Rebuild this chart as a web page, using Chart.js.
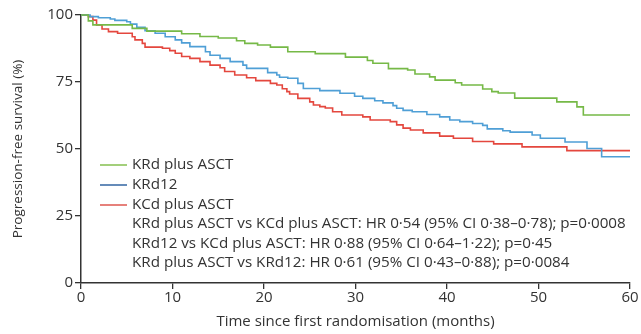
<!DOCTYPE html>
<html>
<head>
<meta charset="utf-8">
<script src="https://cdn.jsdelivr.net/npm/chart.js@4/dist/chart.umd.min.js"></script>
<style>
html,body{margin:0;padding:0;background:#fff;}
#wrap{width:641px;height:334px;}
</style>
</head>
<body>
<div id="wrap"><canvas id="c" width="641" height="334"></canvas></div>
<script>
// ---- Data ----
const xTicks = [0, 10, 20, 30, 40, 50, 60];
const yTicks = [0, 25, 50, 75, 100];

const krdAsctMonths = [0, 0.8, 1.3, 5.6, 7.2, 11, 13, 15, 17, 17.9, 19.3, 20.7, 22.6, 25.6, 28.9, 31.3, 31.9, 33.6, 35.7, 36.5, 38.1, 38.7, 40.9, 41.6, 43.9, 44.9, 45.6, 47.4, 52, 54.2, 54.9, 60];
const krdAsctPFS    = [100, 97.8, 96.3, 95, 94, 93, 92, 91.4, 90.4, 89.4, 88.8, 88, 86.3, 85.6, 84.3, 83, 82, 80, 79.5, 78, 76.9, 75.7, 74.7, 73.9, 72.4, 71.4, 70.9, 69, 67.6, 65.7, 62.7, 62.7];

const krd12Months = [0, 1, 1.9, 3.2, 3.7, 5, 5.4, 6.1, 7, 8.1, 9.2, 10.3, 11, 11.9, 13.6, 14.1, 15.2, 16.3, 17.7, 18.1, 20.4, 21.4, 21.7, 22.6, 23.7, 24.3, 26.1, 28.3, 29.9, 30.8, 32.1, 33, 34.1, 34.5, 35.2, 36.2, 37.8, 39.2, 40.3, 41.4, 42.8, 43.9, 44.4, 46.1, 46.9, 49.3, 50.2, 52.9, 55.3, 56.9, 60];
const krd12PFS    = [100, 99.4, 99, 98.5, 98, 97.5, 96.6, 95.4, 94.1, 93.2, 91.9, 90.7, 89.6, 88.2, 86.3, 85, 83.8, 82.6, 81.3, 80.1, 78.5, 77.6, 76.8, 76.4, 74.5, 72.6, 71.8, 70.8, 69.7, 68.9, 68, 67.2, 66.2, 65.2, 64.4, 63.9, 62.9, 62, 60.8, 60.2, 59.5, 58.8, 57.5, 56.8, 56.3, 55.2, 54, 52.6, 50.2, 47.1, 47.1];

const kcdAsctMonths = [0, 0.8, 1.3, 1.7, 2.3, 3, 4, 5.6, 5.9, 6.7, 7, 8.9, 9.7, 10.3, 11, 11.9, 13, 14.1, 15.2, 15.7, 16.8, 18.1, 19.1, 20.7, 21.4, 22, 22.5, 22.8, 23.7, 25, 25.4, 26.1, 26.7, 27.5, 28.5, 30.8, 31.6, 33.8, 34.5, 35.2, 36, 37.4, 39.2, 40.7, 42.8, 45.1, 48.2, 53.1, 60];
const kcdAsctPFS    = [100, 99.4, 98.1, 96.3, 94.8, 93.8, 93.2, 91.9, 90.7, 89.4, 88, 87.6, 86.7, 85.7, 84.5, 83.8, 82.6, 81.3, 80.3, 78.9, 77.6, 76.6, 75.5, 74.5, 73.9, 72.5, 71.4, 70.5, 68.9, 67.6, 66.4, 65.8, 65.3, 63.9, 62.7, 62, 60.8, 60.2, 59, 57.8, 57.1, 56, 54.8, 54, 52.8, 51.9, 50.8, 49.4, 49.4];

const seriesNames = ['KRd plus ASCT', 'KRd12', 'KCd plus ASCT'];
const statLines = [
  'KRd plus ASCT vs KCd plus ASCT: HR 0\u00b754 (95% CI 0\u00b738\u20130\u00b778); p=0\u00b70008',
  'KRd12 vs KCd plus ASCT: HR 0\u00b788 (95% CI 0\u00b764\u20131\u00b722); p=0\u00b745',
  'KRd plus ASCT vs KRd12: HR 0\u00b761 (95% CI 0\u00b743\u20130\u00b788); p=0\u00b70084'
];
const xTitle = 'Time since first randomisation (months)';
const yTitle = 'Progression-free survival (%)';

// ---- Styles ----
const FONT = "'Open Sans', 'Noto Sans', sans-serif";
const TEXT = '#333333';
const curveColors = ['#76b947', '#4f9fd6', '#e4473e'];
const legendColors = ['#8cc35a', '#3f6ea8', '#e0625a'];

function pts(xs, ys) { return xs.map((x, i) => ({x: x, y: ys[i]})); }

const legendPlugin = {
  id: 'kmLegend',
  afterDraw(chart) {
    const ctx = chart.ctx;
    const a = chart.chartArea;
    const x0 = a.left + 19, x1 = a.left + 46, tx = a.left + 51;
    const ys = [165, 185, 205, 224, 243.5, 263];
    ctx.save();
    ctx.font = '15.2px ' + FONT;
    ctx.fillStyle = TEXT;
    ctx.textBaseline = 'middle';
    ctx.textAlign = 'left';
    seriesNames.forEach((n, i) => {
      ctx.strokeStyle = legendColors[i];
      ctx.lineWidth = 1.6;
      ctx.beginPath();
      ctx.moveTo(x0, ys[i]); ctx.lineTo(x1, ys[i]);
      ctx.stroke();
      ctx.fillText(n, tx, ys[i]);
    });
    statLines.forEach((s, i) => ctx.fillText(s, tx, ys[3 + i]));
    ctx.restore();
  }
};

new Chart(document.getElementById('c'), {
  type: 'line',
  data: {
    datasets: [
      {label: seriesNames[0], data: pts(krdAsctMonths, krdAsctPFS), borderColor: curveColors[0]},
      {label: seriesNames[1], data: pts(krd12Months, krd12PFS), borderColor: curveColors[1]},
      {label: seriesNames[2], data: pts(kcdAsctMonths, kcdAsctPFS), borderColor: curveColors[2]}
    ].map(d => Object.assign(d, {stepped: 'before', borderWidth: 1.6, pointRadius: 0, fill: false, clip: false}))
  },
  options: {
    responsive: false,
    animation: false,
    layout: {padding: {top: 15, right: 11, left: 0, bottom: 0}},
    plugins: {legend: {display: false}, tooltip: {enabled: false}},
    scales: {
      x: {
        type: 'linear', min: 0, max: 60,
        afterBuildTicks: s => { s.ticks = xTicks.map(v => ({value: v})); },
        afterFit: s => { s.height = 51; },
        grid: {drawOnChartArea: false, drawTicks: true, tickLength: 6, color: '#333', lineWidth: 1.3},
        border: {display: true, color: '#333', width: 1.5},
        ticks: {color: TEXT, font: {family: FONT, size: 15}, padding: 0, maxRotation: 0},
        title: {display: true, text: xTitle, color: TEXT, font: {family: FONT, size: 15}, padding: {top: 0, bottom: 3}}
      },
      y: {
        type: 'linear', min: 0, max: 100,
        afterBuildTicks: s => { s.ticks = yTicks.map(v => ({value: v})); },
        afterFit: s => { s.width = 81; },
        grid: {drawOnChartArea: false, drawTicks: true, tickLength: 6, color: '#333', lineWidth: 1.3},
        border: {display: true, color: '#333', width: 1.5},
        ticks: {color: TEXT, font: {family: FONT, size: 15}, padding: 2},
        title: {display: true, text: yTitle, color: TEXT, font: {family: FONT, size: 13.5}, padding: {top: 10, bottom: 0}}
      }
    }
  },
  plugins: [legendPlugin]
});
</script>
</body>
</html>
